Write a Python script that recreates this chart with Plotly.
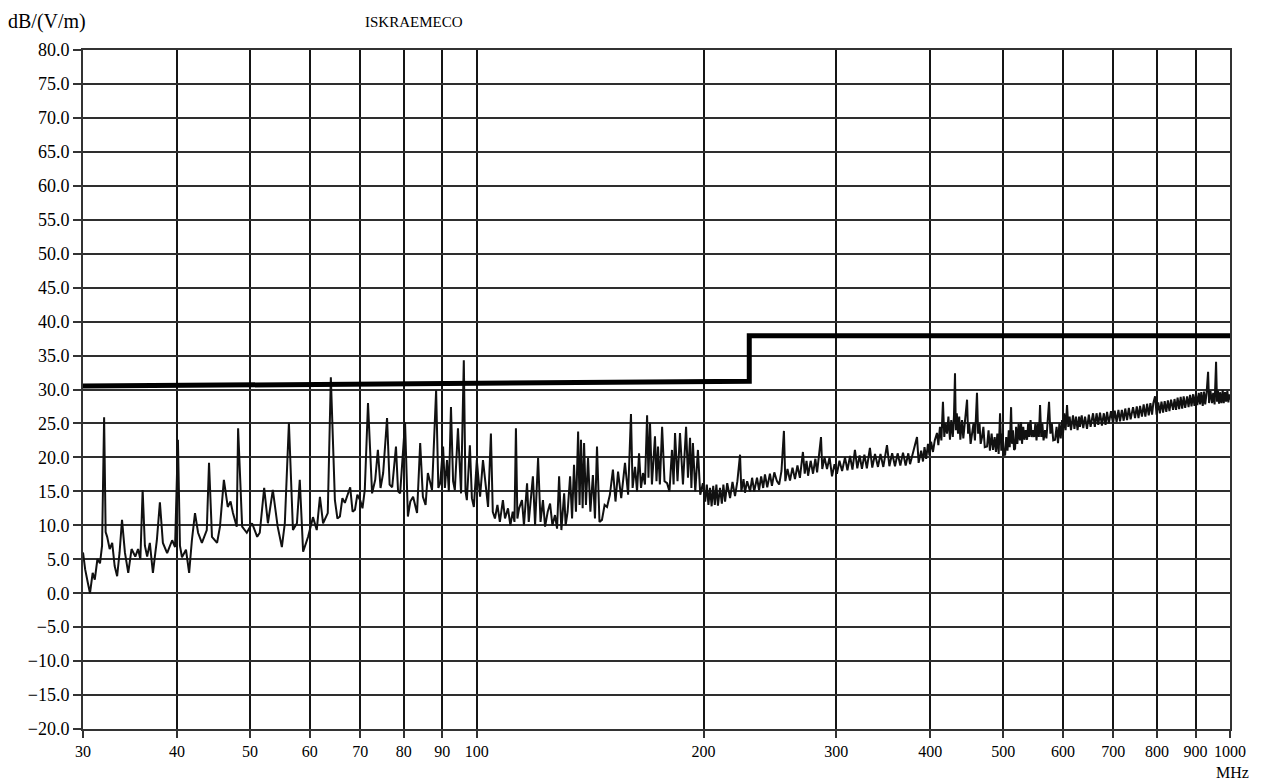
import plotly.graph_objects as go

# Radiated emission scan, 30 MHz - 1 GHz, peak detector (dB(V/m))
freq_30_100 = [
    30.0, 30.2, 30.45, 30.65, 30.9, 31.1, 31.35, 31.6, 31.8, 32.0, 32.15, 32.3, 32.55, 32.8,
    33.05, 33.3, 33.55, 33.8, 34.1, 34.45, 34.8, 35.2, 35.5, 35.75, 36.0, 36.25, 36.5, 36.8,
    37.15, 37.6, 37.95, 38.3, 38.8, 39.4, 39.75, 40.1, 40.35, 40.6, 41.1, 41.5, 41.85, 42.25,
    42.65, 43.15, 43.8, 44.1, 44.5, 45.2, 45.6, 46.15, 46.7, 47.1, 47.45, 48.0, 48.2, 48.8,
    49.5, 50.3, 51.1, 51.5, 52.2, 52.8, 53.6, 54.0, 54.4, 55.1, 55.6, 56.3, 57.0, 57.7, 58.2,
    58.8, 59.7, 60.6, 61.3, 61.9, 62.5, 63.4, 64.0, 64.8, 65.3, 65.8, 66.3, 66.8, 67.9, 68.4,
    68.9, 69.4, 70.0, 70.5, 71.0, 71.7, 72.6, 73.3, 73.9, 74.5, 75.1, 76.0, 76.6, 77.2, 78.1,
    78.6, 79.1, 80.3, 81.0, 81.6, 82.3, 83.3, 84.1, 84.8, 85.5, 86.1, 87.2, 88.3, 88.9, 89.4,
    90.2, 90.7, 91.3, 91.8, 92.4, 93.0, 93.5, 94.4, 95.3, 96.1, 96.6, 97.0, 97.9, 98.5, 99.1,
]
level_30_100 = [
    6.0, 3.5, 1.5, 0.0, 3.0, 2.0, 5.0, 4.4, 7.0, 25.9, 9.0, 8.3, 6.5, 7.4,
    4.0, 2.5, 6.0, 10.8, 6.0, 3.0, 6.5, 5.4, 6.5, 5.0, 15.2, 7.0, 5.4, 7.4,
    3.0, 7.8, 13.4, 7.4, 5.9, 7.8, 6.8, 22.6, 7.0, 5.3, 6.4, 3.0, 7.8, 11.8,
    8.9, 7.4, 9.3, 19.2, 8.3, 7.4, 9.8, 16.7, 12.7, 13.5, 11.8, 9.8, 24.3, 9.8,
    8.9, 10.3, 8.3, 8.9, 15.5, 10.3, 15.2, 12.0, 9.8, 6.8, 10.3, 25.1, 9.3, 10.3, 16.7,
    6.1, 8.3, 11.2, 9.3, 14.2, 10.3, 11.8, 31.8, 13.7, 11.0, 11.3, 14.0, 13.3, 15.6, 12.0,
    12.3, 14.5, 13.7, 12.5, 15.2, 28.0, 14.7, 16.7, 21.1, 15.5, 17.7, 25.8, 16.0, 15.6, 21.6,
    15.0, 14.7, 25.2, 11.3, 13.5, 14.2, 11.8, 22.1, 14.2, 13.0, 17.7, 15.2, 29.9, 15.5, 16.2,
    21.6, 15.5, 19.6, 15.0, 27.4, 16.5, 15.2, 24.3, 14.7, 34.3, 15.0, 13.7, 21.8, 14.0, 12.7,
]

freq_100_200 = [
    100.0, 101.0, 101.9, 103.5, 104.4, 105.0, 105.7, 106.5, 107.3, 108.3, 109.0, 110.0, 110.8,
    111.6, 112.2, 112.7, 113.2, 113.8, 114.8, 115.5, 116.6, 117.2, 118.7, 119.5, 120.6, 121.5,
    122.4, 123.2, 124.2, 125.1, 126.0, 127.0, 127.8, 128.6, 129.5, 130.6, 131.2, 132.0, 133.0,
    133.8, 134.6, 135.4, 136.3, 136.9, 137.5, 138.2, 138.8, 139.6, 140.5, 141.5, 142.6, 143.5,
    144.4, 145.5, 146.6, 147.8, 148.9, 150.2, 151.6, 152.8, 154.0, 155.5, 157.3, 158.8, 160.2,
    161.0, 162.2, 163.2, 164.2, 165.2, 166.2, 167.2, 168.3, 169.0, 169.8, 170.8, 172.4, 173.2,
    174.0, 175.0, 176.2, 177.5, 178.9, 180.2, 181.6, 182.5, 183.3, 184.7, 186.1, 187.8, 189.6,
    190.7, 191.9, 192.7, 193.6, 195.0, 196.6, 198.0, 199.6,
]
level_100_200 = [
    19.6, 14.2, 19.6, 12.7, 23.5, 12.0, 11.0, 13.0, 10.5, 13.7, 11.0, 12.5, 10.0,
    12.0, 10.5, 24.3, 11.0, 12.5, 13.7, 10.0, 16.2, 10.5, 17.2, 10.0, 19.9, 10.5,
    13.7, 9.8, 12.0, 13.2, 10.0, 11.5, 9.5, 17.2, 9.3, 14.7, 10.0, 12.0, 17.2,
    11.0, 18.9, 12.0, 23.8, 13.0, 22.6, 12.5, 22.1, 13.0, 19.9, 12.0, 17.4, 11.0,
    21.6, 10.5, 10.8, 13.0, 12.7, 14.5, 18.2, 13.5, 17.9, 14.0, 19.2, 14.5, 26.4,
    15.5, 18.6, 15.0, 20.6, 15.5, 17.7, 16.0, 26.2, 17.0, 25.1, 16.0, 23.1, 16.5,
    21.6, 16.0, 24.5, 16.5, 16.2, 15.0, 21.1, 16.0, 23.6, 16.5, 23.6, 16.0, 24.5,
    17.0, 22.9, 15.5, 22.1, 15.0, 21.1, 14.5, 16.2,
]

freq_200_400 = [
    201, 202, 203, 204, 205, 206, 207, 208, 209, 210.3, 211.5, 212.5, 213.6, 215, 216.9,
    218.5, 220.2, 221.8, 223.6, 224.5, 226, 227, 228.5, 230.6, 232, 233.5, 235.5, 237, 238.5,
    240, 241.3, 243, 245, 246.5, 248.3, 250.3, 252, 253.8, 255.7, 256.8, 258.5, 260.5, 262.5,
    264.5, 266.5, 268.5, 271.0, 272.5, 274, 275.3, 277.5, 279.5, 281.5, 283, 286.4, 287.5,
    289.5, 291.7, 294, 296.2, 298.5, 300.7, 303, 305.5, 308.2, 310.5, 313, 315.3, 317.7, 320,
    322.3, 324.6, 327, 329.5, 332.6, 335, 337.8, 340.9, 343.5, 346.5, 350.4, 353, 356, 359.1,
    362, 365, 368, 371, 374, 376, 380, 384.1, 386, 389, 391.2, 393, 395, 397.2, 399,
]
level_200_400 = [
    13.5, 16.0, 13.0, 15.5, 12.8, 15.8, 13.0, 16.0, 12.9, 15.5, 13.2, 16.0, 13.5, 16.2, 14.0,
    16.4, 14.3, 16.5, 20.4, 15.0, 16.8, 14.8, 16.5, 15.0, 17.0, 15.0, 17.0, 15.2, 17.2,
    15.5, 17.5, 15.6, 17.6, 15.8, 17.8, 16.5, 16.0, 18.0, 23.9, 16.5, 18.3, 16.6, 18.5,
    16.8, 18.8, 17.0, 20.8, 17.6, 19.5, 17.3, 19.5, 17.6, 19.8, 17.8, 23.0, 18.3,
    20.0, 18.3, 20.0, 17.2, 19.0, 17.6, 19.5, 18.0, 20.0, 18.1, 20.2, 18.2, 21.1, 18.4,
    20.3, 18.3, 20.4, 18.4, 21.4, 18.5, 20.5, 18.6, 20.5, 18.6, 21.8, 18.7, 20.6, 18.7,
    20.6, 18.8, 20.7, 18.8, 20.6, 19.0, 20.8, 23.0, 19.2, 21.0, 19.4, 21.5, 19.8, 22.0, 20.3,
]

freq_400_600 = [
    401, 403.3, 405.5, 408.3, 410, 412, 413.8, 415.8, 417.5, 419, 421, 422.8, 424.8, 426.5,
    428.5, 430, 431.4, 432.5, 433.8, 435.4, 437, 438.5, 440.8, 442.5, 444.5, 447.6, 449,
    450.5, 452.5, 454.5, 456.5, 458.5, 461.4, 463, 465, 466.6, 468.6, 470.5, 472.5, 475.8,
    478, 480, 482.5, 484.6, 487, 489, 491, 493, 495.1, 497, 499, 500.8, 502.8, 504.5, 506.5,
    508.5, 510, 512.1, 513.5, 515, 516.8, 518.4, 520, 522, 524, 526, 527.9, 529.5, 531.5,
    533.5, 535.5, 537.7, 539.5, 541.5, 543.5, 545.5, 547.6, 549.5, 551.5, 553.5, 555.5, 557.5,
    559.5, 561.5, 563.5, 565.5, 568.1, 570.5, 573, 575.1, 577.5, 580, 582.5, 585.8, 588.5,
    591.1, 593.5, 596, 598.5,
]
level_400_600 = [
    22.3, 20.8, 22.5, 23.6, 21.8, 24.5, 22.5, 28.2, 23.0, 25.0, 23.5, 26.0, 22.6, 25.5,
    23.0, 26.0, 32.4, 24.0, 26.5, 23.5, 26.0, 22.6, 25.5, 22.8, 25.0, 28.5, 23.5,
    25.0, 22.0, 23.5, 25.0, 22.5, 29.5, 23.5, 25.0, 22.0, 23.0, 24.5, 21.5, 21.6,
    24.0, 21.0, 23.5, 21.1, 23.0, 20.8, 23.5, 20.5, 26.5, 21.0, 23.5, 20.5, 20.3, 23.0, 21.0,
    24.0, 21.5, 27.4, 22.0, 24.0, 21.1, 21.3, 24.5, 22.0, 25.0, 22.5, 25.2, 22.0, 24.5,
    22.6, 24.0, 22.6, 25.0, 23.0, 25.5, 23.0, 24.0, 23.0, 25.0, 22.5, 25.0, 23.0,
    27.7, 23.0, 25.0, 22.5, 24.0, 22.8, 25.5, 28.2, 23.5, 25.0, 22.5, 22.6, 24.5,
    22.1, 25.0, 22.8, 25.5,
]

freq_600_1000 = [
    600.2, 602.5, 605, 607.6, 610, 612.5, 615, 618.8, 621.5, 624.5, 627.5, 630.5, 632.2, 635.5,
    638.5, 642, 645.9, 649.5, 653, 657.9, 661.5, 665, 668.5, 672.1, 676, 680, 683.5, 686.7,
    690.5, 695, 699.4, 703, 707, 711, 714.5, 718.5, 722.5, 726, 730, 734, 738, 743.5, 748, 752,
    756, 759.6, 764, 768, 772, 776.1, 780, 784, 788, 791, 795.3, 799, 803, 807, 811, 815, 819,
    823, 827, 831, 835, 840.3, 844, 848, 852, 856, 860, 864, 868, 872, 877.1, 881, 885, 889,
    893.3, 897, 901, 905, 909, 912.6, 916, 920, 923.8, 927, 931, 935.2, 938, 942, 946.7, 950,
    954, 958.3, 961, 964, 967, 970.1, 974, 978, 981, 985, 988, 992, 995, 998, 1000,
]
level_600_1000 = [
    23.5, 26.5, 24.0, 27.7, 24.5, 26.0, 24.0, 26.2, 24.2, 26.0, 24.0, 26.0, 24.5, 26.2,
    24.3, 26.0, 24.2, 26.3, 24.5, 26.5, 24.5, 26.5, 24.8, 26.6, 24.7, 26.5, 24.8, 26.7,
    25.0, 26.8, 25.0, 26.9, 25.2, 27.0, 25.3, 27.0, 25.4, 27.2, 25.5, 27.3, 25.6, 27.4, 25.8, 27.5,
    25.8, 27.6, 26.0, 27.8, 26.0, 27.9, 26.2, 28.0, 26.3, 28.0, 29.0, 26.3, 28.1, 26.5, 28.2, 26.6, 28.3,
    26.7, 28.4, 26.8, 28.5, 27.0, 28.6, 27.0, 28.8, 27.1, 28.9, 27.2, 29.0, 27.3, 29.0, 27.4, 29.2, 27.5,
    29.3, 27.6, 29.4, 27.7, 29.5, 27.8, 29.6, 27.6, 29.7, 27.8, 29.5, 32.6, 28.0, 29.8, 28.0, 29.5,
    27.8, 34.1, 28.2, 29.8, 27.9, 29.6, 28.0, 29.9, 28.0, 29.6, 28.2, 29.8, 28.1, 29.3, 28.5,
]

# Class limit (quasi-peak), stepped at 230 MHz
limit_freq = [30, 230, 230, 1000]
limit_level = [30.5, 31.2, 37.9, 37.9]

y_ticks = list(range(-20, 81, 5))
y_tick_text = [("\u2212" if v < 0 else "") + f"{abs(v):.1f}" for v in y_ticks]
x_ticks = [30, 40, 50, 60, 70, 80, 90, 100, 200, 300, 400, 500, 600, 700, 800, 900, 1000]
x_tick_text = [str(v) for v in x_ticks]

scan_freq = freq_30_100 + freq_100_200 + freq_200_400 + freq_400_600 + freq_600_1000
scan_level = level_30_100 + level_100_200 + level_200_400 + level_400_600 + level_600_1000

serif = "Liberation Serif"

# plot area in page pixels
L, R, T, B = 83, 36, 50, 53
W, H = 1266, 782


def px(x, y):
    """Page pixel position -> paper coordinates."""
    return (x - L) / (W - L - R), (H - B - y) / (H - T - B)


fig = go.Figure()
fig.add_trace(go.Scatter(
    x=scan_freq, y=scan_level, mode="lines",
    line=dict(color="#111111", width=2.0), hoverinfo="x+y", showlegend=False,
))
fig.add_trace(go.Scatter(
    x=limit_freq, y=limit_level, mode="lines",
    line=dict(color="#000000", width=5), showlegend=False,
))

annotations = []
for text, (x, y), size, anchor in [
    ("dB/(V/m)", (6, 22), 20, "left"),
    ("ISKRAEMECO", (363, 22), 15, "left"),
    ("MHz", (1251, 772), 16, "right"),
]:
    ax, ay = px(x, y)
    annotations.append(dict(
        text=text, x=ax, y=ay, xref="paper", yref="paper", showarrow=False,
        font=dict(family=serif, size=size, color="#000"),
        xanchor=anchor, yanchor="middle",
    ))

fig.update_layout(
    width=W, height=H,
    margin=dict(l=L, r=R, t=T, b=B),
    paper_bgcolor="white", plot_bgcolor="white",
    font=dict(family=serif, size=15, color="#000"),
    xaxis=dict(
        type="log", range=[1.4771213, 3.0],
        tickvals=x_ticks, ticktext=x_tick_text,
        showgrid=True, gridcolor="#151515", gridwidth=1.8,
        showline=True, linecolor="#333", linewidth=2, mirror=True,
        ticks="outside", ticklen=7, tickcolor="#333", tickwidth=1.5,
        tickfont=dict(family=serif, size=16, color="#000"), zeroline=False,
    ),
    yaxis=dict(
        range=[-20, 80], tickvals=y_ticks, ticktext=y_tick_text,
        showgrid=True, gridcolor="#2e2e2e", gridwidth=1.8,
        showline=True, linecolor="#333", linewidth=2, mirror=True,
        ticks="outside", ticklen=8, tickcolor="#333", tickwidth=1.5,
        tickfont=dict(family=serif, size=18, color="#000"), zeroline=False,
    ),
    annotations=annotations,
)

fig.write_html("out.html")
